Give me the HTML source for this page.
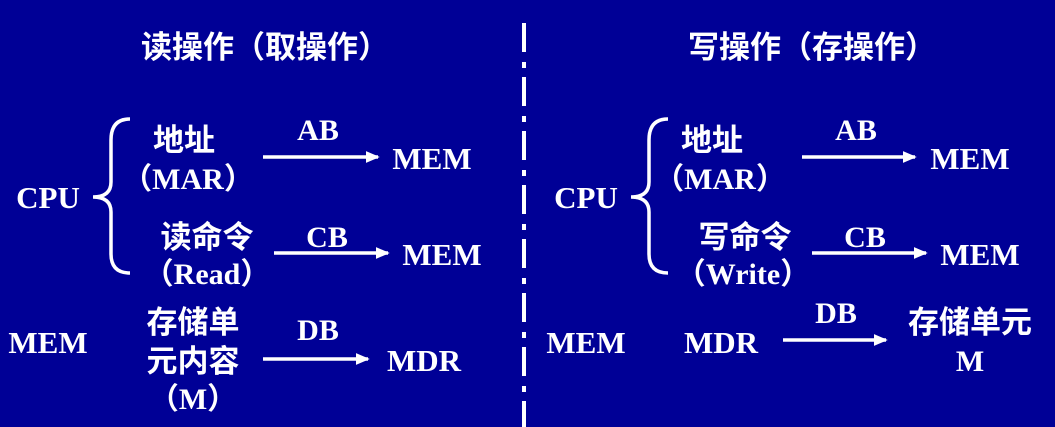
<!DOCTYPE html>
<html><head><meta charset="utf-8"><style>
html,body{margin:0;padding:0;background:#000096;}
svg{display:block}
text{fill:#fff;font-weight:bold;text-anchor:middle}
.c{font-family:"Noto Sans CJK SC","WenQuanYi Zen Hei",sans-serif;font-size:31px}
.l{font-family:"Liberation Serif","Noto Sans CJK SC",serif;font-size:31px}
.m{font-family:"Liberation Serif","Noto Sans CJK SC",serif;font-size:30px}
</style></head><body>
<svg width="1055" height="427" viewBox="0 0 1055 427">
<rect width="1055" height="427" fill="#000096"/>
<line x1="524" y1="23" x2="524" y2="427" stroke="#fff" stroke-width="4" stroke-dasharray="29 10 6 9"/>
<defs><marker id="a" markerWidth="4" markerHeight="3.4" refX="3.5" refY="1.7" orient="auto" markerUnits="strokeWidth"><path d="M0,0 L4,1.7 L0,3.4 z" fill="#fff"/></marker></defs>
<g stroke="#fff" stroke-width="3.5" fill="none">
<path d="M130,119 Q111,119 111,140 L111,182 Q111,197 93,197 Q111,197 111,212 L111,254 Q111,273 130,273"/>
<path d="M668,119 Q649,119 649,140 L649,182 Q649,197 631,197 Q649,197 649,212 L649,254 Q649,273 668,273"/>
<line x1="263" y1="157" x2="378" y2="157" marker-end="url(#a)"/>
<line x1="274" y1="253" x2="388" y2="253" marker-end="url(#a)"/>
<line x1="263" y1="359" x2="368" y2="359" marker-end="url(#a)"/>
<line x1="802" y1="157" x2="915" y2="157" marker-end="url(#a)"/>
<line x1="812" y1="253" x2="926" y2="253" marker-end="url(#a)"/>
<line x1="783" y1="340" x2="886" y2="340" marker-end="url(#a)"/>
</g>
<text class="c" x="265" y="58">读操作（取操作）</text>
<text class="c" x="812" y="58">写操作（存操作）</text>

<text class="l" x="48" y="208">CPU</text>
<text class="c" x="184" y="151">地址</text>
<text class="m" x="188" y="189">（MAR）</text>
<text class="m" x="318" y="140">AB</text>
<text class="l" x="432" y="169">MEM</text>
<text class="c" x="207" y="248">读命令</text>
<text class="m" x="207" y="284">（Read）</text>
<text class="m" x="327" y="247">CB</text>
<text class="l" x="442" y="265">MEM</text>
<text class="l" x="48" y="353">MEM</text>
<text class="c" x="193" y="333">存储单</text>
<text class="c" x="193" y="372">元内容</text>
<text class="m" x="193" y="409">（M）</text>
<text class="m" x="318" y="340">DB</text>
<text class="l" x="424" y="371">MDR</text>

<text class="l" x="586" y="208">CPU</text>
<text class="c" x="712" y="151">地址</text>
<text class="m" x="720" y="189">（MAR）</text>
<text class="m" x="856" y="140">AB</text>
<text class="l" x="970" y="169">MEM</text>
<text class="c" x="745" y="248">写命令</text>
<text class="m" x="743" y="284">（Write）</text>
<text class="m" x="865" y="247">CB</text>
<text class="l" x="980" y="265">MEM</text>
<text class="l" x="586" y="353">MEM</text>
<text class="l" x="721" y="353">MDR</text>
<text class="m" x="836" y="323">DB</text>
<text class="c" x="970" y="333">存储单元</text>
<text class="m" x="970" y="371">M</text>
</svg>
</body></html>
